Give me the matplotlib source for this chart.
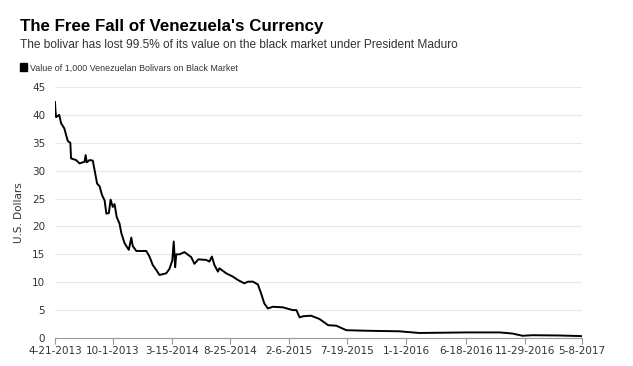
import matplotlib
matplotlib.use("Agg")
import matplotlib.pyplot as plt
import pandas as pd

# black-market value of 1,000 bolivars in USD
DATES = [
    "2013-04-21", "2013-04-22", "2013-04-24", "2013-05-03", "2013-05-08", "2013-05-17",
    "2013-05-27", "2013-06-03", "2013-06-05", "2013-06-19", "2013-06-29", "2013-07-13",
    "2013-07-16", "2013-07-19", "2013-07-27", "2013-08-05", "2013-08-10", "2013-08-17",
    "2013-08-24", "2013-08-31", "2013-09-07", "2013-09-12", "2013-09-19", "2013-09-24",
    "2013-09-30", "2013-10-05", "2013-10-11", "2013-10-19", "2013-10-24", "2013-11-02",
    "2013-11-14", "2013-11-21", "2013-11-25", "2013-12-05", "2014-01-02", "2014-01-11",
    "2014-01-20", "2014-01-30", "2014-02-08", "2014-02-27", "2014-03-08", "2014-03-16",
    "2014-03-20", "2014-03-24", "2014-03-27", "2014-04-05", "2014-04-19", "2014-05-08",
    "2014-05-17", "2014-05-28", "2014-06-19", "2014-06-28", "2014-07-05", "2014-07-12",
    "2014-07-22", "2014-07-26", "2014-08-14", "2014-09-02", "2014-09-16", "2014-10-04",
    "2014-10-14", "2014-10-28", "2014-11-11", "2014-11-20", "2014-11-29", "2014-12-09",
    "2014-12-23", "2015-01-20", "2015-02-17", "2015-02-27", "2015-03-08", "2015-03-18",
    "2015-04-09", "2015-05-03", "2015-05-27", "2015-06-19", "2015-07-17", "2015-09-11",
    "2015-12-13", "2016-02-07", "2016-06-17", "2016-09-19", "2016-10-25", "2016-11-22",
    "2016-12-20", "2017-03-06", "2017-05-01", "2017-05-08",
]
VALUES = [
    42.3, 41.0, 39.6, 40.0, 38.5, 37.6,
    35.3, 35.0, 32.2, 31.9, 31.3, 31.6,
    32.8, 31.5, 31.9, 31.8, 30.1, 27.7,
    27.2, 25.6, 24.7, 22.3, 22.4, 24.8,
    23.5, 24.0, 21.7, 20.5, 18.8, 17.0,
    15.8, 18.0, 16.5, 15.6, 15.6, 14.6,
    13.1, 12.2, 11.3, 11.6, 12.4, 13.9,
    17.3, 12.7, 15.0, 15.0, 15.4, 14.5,
    13.3, 14.1, 14.0, 13.7, 14.6, 13.1,
    11.9, 12.5, 11.6, 11.0, 10.4, 9.8,
    10.1, 10.1, 9.6, 8.0, 6.2, 5.3,
    5.6, 5.5, 5.0, 5.0, 3.7, 3.9,
    4.0, 3.4, 2.3, 2.2, 1.4, 1.3,
    1.2, 0.9, 1.0, 1.0, 0.8, 0.4,
    0.5, 0.45, 0.35, 0.33,
]
TICK_DATES = ["2013-04-21", "2013-10-01", "2014-03-15", "2014-08-25", "2015-02-06",
              "2015-07-19", "2016-01-01", "2016-06-18", "2016-11-29", "2017-05-08"]
Y_TICKS = [0, 5, 10, 15, 20, 25, 30, 35, 40, 45]

TITLE = "The Free Fall of Venezuela's Currency"
SUBTITLE = "The bolivar has lost 99.5% of its value on the black market under President Maduro"
SERIES = "Value of 1,000 Venezuelan Bolivars on Black Market"

HEAD = ["Liberation Sans", "DejaVu Sans"]

dates = pd.to_datetime(DATES)
ticks = pd.to_datetime(TICK_DATES)

fig = plt.figure(figsize=(6.33, 3.66), dpi=100)
ax = fig.add_axes([55 / 633, 1 - 338 / 366, 527 / 633, (338 - 87) / 366])

ax.plot(dates, VALUES, color="black", lw=1.4)
ax.set_xlim(ticks[0], ticks[-1])
ax.set_ylim(0, 45)
ax.set_yticks(Y_TICKS)
ax.set_xticks(ticks)
ax.set_xticklabels([f"{d.month}-{d.day}-{d.year}" for d in ticks])
ax.grid(axis="y", color="#e8e8e8", lw=0.8)
ax.set_axisbelow(True)
for s in ("top", "right", "left"):
    ax.spines[s].set_visible(False)
ax.spines["bottom"].set_color("#999999")
ax.tick_params(axis="x", colors="#999999", length=4, labelcolor="#333333", labelsize=7.5, pad=2)
ax.tick_params(axis="y", length=0, labelcolor="#333333", labelsize=7.5, pad=7)
ax.set_ylabel("U.S. Dollars", fontsize=7.5, color="#333333", labelpad=6)

fig.text(20 / 633, 1 - 31 / 366, TITLE, family=HEAD, fontweight="bold",
         fontsize=12.2, va="baseline", ha="left", color="black")
fig.text(20 / 633, 1 - 48 / 366, SUBTITLE, family=HEAD, fontsize=8.55,
         va="baseline", ha="left", color="#333333")
fig.patches.append(plt.Rectangle((20 / 633, 1 - 71 / 366), 7 / 633, 8 / 366,
                                 transform=fig.transFigure, color="black"))
fig.text(30 / 633, 1 - 71 / 366, SERIES, family=HEAD, fontsize=6.4,
         va="baseline", ha="left", color="#333333")

fig.savefig("out.png", dpi=100, facecolor="white")
